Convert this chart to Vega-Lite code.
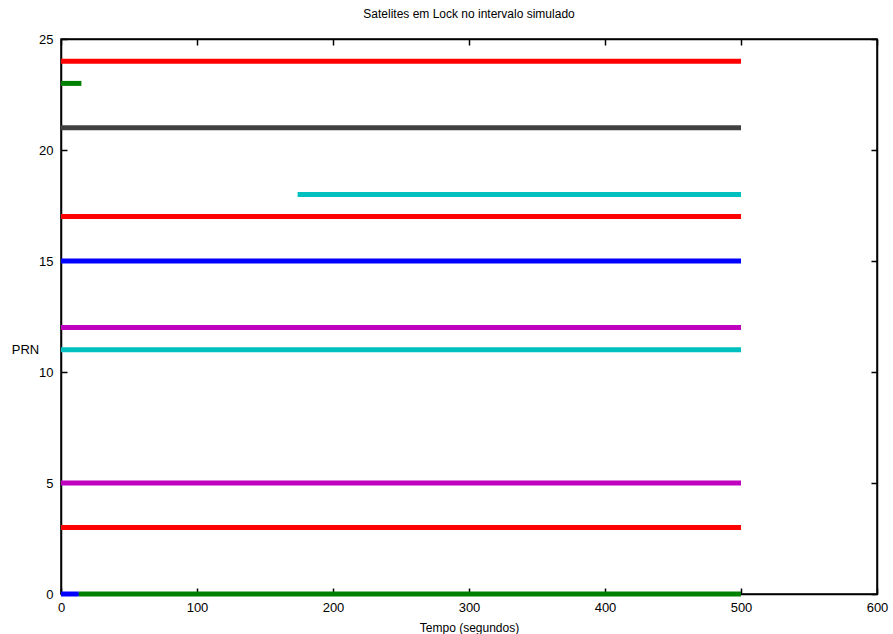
{
  "$schema": "https://vega.github.io/schema/vega-lite/v6.json",
  "width": 816,
  "height": 555,
  "autosize": {"type": "none"},
  "padding": {"left": 61, "top": 39, "right": 16, "bottom": 40},
  "background": "white",
  "config": {
    "font": "Liberation Sans",
    "view": {"stroke": "black", "strokeWidth": 1.5},
    "axis": {"grid": false, "domainColor": "black", "tickColor": "black", "labelColor": "black", "titleColor": "black", "labelFont": "Liberation Sans", "titleFont": "Liberation Sans", "labelFontSize": 13, "titleFontSize": 12, "titleFontWeight": "normal", "domainWidth": 1.5, "tickWidth": 1.5}
  },
  "title": {"text": "Satelites em Lock no intervalo simulado", "fontSize": 12, "fontWeight": "normal", "font": "Liberation Sans", "color": "black", "offset": 12},
  "data": {"values": [
    {"trace": "a", "prn": 24, "t0": 0, "t1": 500},
    {"trace": "b", "prn": 23, "t0": 0, "t1": 15},
    {"trace": "c", "prn": 21, "t0": 0, "t1": 500},
    {"trace": "d", "prn": 18, "t0": 174, "t1": 500},
    {"trace": "e", "prn": 17, "t0": 0, "t1": 500},
    {"trace": "f", "prn": 15, "t0": 0, "t1": 500},
    {"trace": "g", "prn": 12, "t0": 0, "t1": 500},
    {"trace": "h", "prn": 11, "t0": 0, "t1": 500},
    {"trace": "i", "prn": 5, "t0": 0, "t1": 500},
    {"trace": "j", "prn": 3, "t0": 0, "t1": 500},
    {"trace": "k", "prn": 0, "t0": 13, "t1": 500},
    {"trace": "l", "prn": 0, "t0": 0, "t1": 13}
  ]},
  "layer": [
    {
      "mark": {"type": "rule", "strokeWidth": 5, "strokeCap": "butt"},
      "encoding": {
        "x": {"field": "t0", "type": "quantitative", "scale": {"domain": [0, 600], "nice": false},
              "axis": {"orient": "bottom", "values": [0, 100, 200, 300, 400, 500, 600], "tickSize": -6, "labelPadding": 13, "title": "Tempo (segundos)", "titlePadding": 8, "labelFlush": false}},
        "x2": {"field": "t1"},
        "y": {"field": "prn", "type": "quantitative", "scale": {"domain": [0, 25], "nice": false},
              "axis": {"orient": "left", "values": [0, 5, 10, 15, 20, 25], "tickSize": -6, "labelPadding": 14, "title": "PRN", "titleAngle": 0, "titleX": -36, "titleY": 310, "titleAlign": "center", "titleBaseline": "middle", "titleFontSize": 13, "labelFlush": false}},
        "color": {"field": "trace", "type": "nominal", "legend": null,
                  "scale": {"domain": ["a","b","c","d","e","f","g","h","i","j","k","l"],
                            "range": ["#FF0000","#008000","#404040","#00BFBF","#FF0000","#0000FF","#BF00BF","#00BFBF","#BF00BF","#FF0000","#008000","#0000FF"]}}
      }
    },
    {
      "mark": {"type": "rule", "opacity": 0},
      "encoding": {
        "x": {"field": "t0", "type": "quantitative", "axis": {"orient": "top", "values": [0, 100, 200, 300, 400, 500, 600], "tickSize": -6, "labels": false, "title": null}},
        "y": {"field": "prn", "type": "quantitative", "axis": {"orient": "right", "values": [0, 5, 10, 15, 20, 25], "tickSize": -6, "labels": false, "title": null}}
      }
    }
  ],
  "resolve": {"axis": {"x": "independent", "y": "independent"}}
}
